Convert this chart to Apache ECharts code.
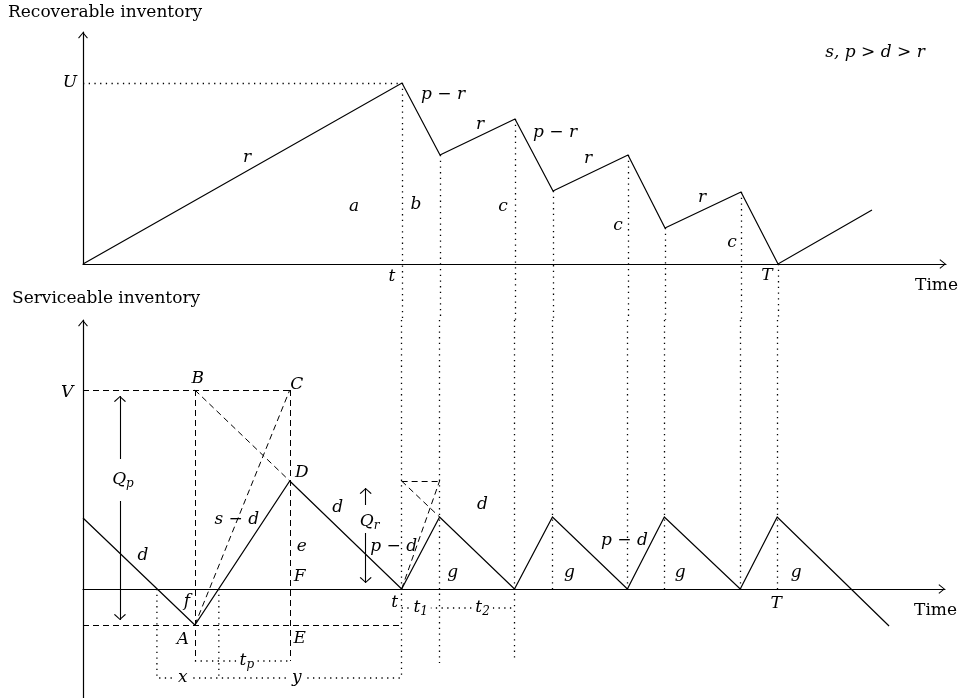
<!DOCTYPE html>
<html>
<head>
<meta charset="utf-8">
<script src="https://cdn.jsdelivr.net/npm/echarts@6/dist/echarts.min.js"></script>
<style>
  html, body { margin: 0; padding: 0; background: #fff; }
  #main { width: 960px; height: 698px; }
</style>
</head>
<body>
<div id="main"></div>
<script>
// units: time on x, inventory on y (schematic)

// recoverable inventory (top panel)
const recoverable = [[0, 0], [31.9, 18.1], [35.7, 10.9], [43.2, 14.5], [47.0, 7.3], [54.5, 10.9], [58.2, 3.6], [65.8, 7.2], [69.5, 0], [78.9, 5.4]];
const uLevel = 18.1;

// serviceable inventory (bottom panel)
const serviceable = [[0, 7.1], [11.2, -3.6], [20.7, 10.8], [31.9, 0], [35.7, 7.2], [43.2, 0], [47.0, 7.2], [54.5, 0], [58.2, 7.2], [65.8, 0], [69.5, 7.2], [80.7, -3.7]];
const vLevel = 19.9;
const aLevel = -3.6;
const dLevel = 10.8;
const bracketTp = -7.2;
const bracketXY = -8.9;
const bracketT12 = -1.9;

// vertical time markers: [time, top panel start, bottom panel end]
const markers = [[31.9, 18.1, -8.9], [35.7, 10.9, -7.4], [43.2, 14.5, -7.1], [47.0, 7.3, 0], [54.5, 10.9, 0], [58.2, 3.6, 0], [65.8, 7.2, 0], [69.5, 0, 0]];

// construction lines in the bottom panel
const dashedBottom = [
  [[0, vLevel], [20.7, vLevel]],
  [[11.2, vLevel], [11.2, bracketTp]],
  [[20.7, vLevel], [20.7, bracketTp]],
  [[11.2, vLevel], [20.7, dLevel]],
  [[11.2, aLevel], [20.7, vLevel]],
  [[0, aLevel], [31.7, aLevel]],
  [[31.9, 0], [35.7, dLevel]],
  [[31.9, dLevel], [35.7, dLevel]],
  [[31.9, dLevel], [35.7, 7.2]],
];
const dottedBottom = [
  [[7.4, 0], [7.4, bracketXY], [31.9, bracketXY]],
  [[13.6, 0], [13.6, bracketXY]],
  [[11.2, bracketTp], [20.7, bracketTp]],
  [[31.9, bracketT12], [43.2, bracketT12]],
];
const arrowsBottom = [
  [[3.7, 13.0], [3.7, 19.3]],
  [[3.7, 8.8], [3.7, -3.1]],
  [[28.3, 8.4], [28.3, 10.1]],
  [[28.3, 5.6], [28.3, 0.6]],
];

const topLabels = [
  [-1.3, 18.1, "U"],
  [16.4, 10.6, "r"],
  [27.1, 5.7, "a"],
  [33.3, 5.9, "b"],
  [36.0, 16.9, "p − r"],
  [39.7, 13.9, "r"],
  [47.2, 13.1, "p − r"],
  [50.5, 10.5, "r"],
  [42.0, 5.7, "c"],
  [53.5, 3.8, "c"],
  [61.9, 6.6, "r"],
  [64.9, 2.1, "c"],
  [30.9, -1.3, "t"],
  [68.4, -1.2, "T"],
  [79.2, 21.1, "s, p > d > r"],
];
// 4th field: cut a gap in the line underneath
const bottomLabels = [
  [-1.6, 19.6, "V"],
  [11.5, 21.0, "B"],
  [21.4, 20.4, "C"],
  [21.9, 11.6, "D"],
  [4.0, 10.9, "Q_p"],
  [6.0, 3.3, "d"],
  [15.4, 6.9, "s − d"],
  [21.9, 4.2, "e"],
  [21.7, 1.2, "F"],
  [10.4, -1.3, "f"],
  [10.0, -5.1, "A"],
  [21.7, -5.0, "E"],
  [16.4, -7.2, "t_p", true],
  [10.0, -8.9, "x", true],
  [21.4, -8.9, "y", true],
  [25.5, 8.1, "d"],
  [28.7, 6.7, "Q_r"],
  [31.1, 4.2, "p − d"],
  [37.0, 1.6, "g"],
  [31.2, -1.4, "t"],
  [33.8, -1.9, "t_1", true],
  [40.0, -1.9, "t_2", true],
  [40.0, 8.4, "d"],
  [48.7, 1.6, "g"],
  [54.2, 4.8, "p − d"],
  [59.8, 1.6, "g"],
  [71.4, 1.6, "g"],
  [69.4, -1.5, "T"],
];

const FONT = "DejaVu Serif";
// open arrow head, tip at the centre of its box
const arrowHead = "path://M5,0L10,6L9.2,6.7L5,1.5L0.8,6.7L0,6ZM5,-6.7L5.02,-6.7L5.02,-6.68Z";

const solid = { color: "#000", width: 1.2, type: "solid", opacity: 1 };
const dashed = { color: "#000", width: 1, type: [6, 4], opacity: 1 };
const dotted = { color: "#000", width: 1.3, type: [1.3, 4.4], opacity: 1 };

function linesSeries(grid, segments, style, symbol) {
  return {
    type: "lines",
    coordinateSystem: "cartesian2d",
    xAxisIndex: grid,
    yAxisIndex: grid,
    polyline: segments.some((c) => c.length > 2),
    clip: false,
    silent: true,
    symbol: symbol || ["none", "none"],
    symbolSize: [9, 12],
    lineStyle: style,
    data: segments.map((c) => ({ coords: c })),
  };
}

function labelSeries(grid, items) {
  return {
    type: "scatter",
    xAxisIndex: grid,
    yAxisIndex: grid,
    symbolSize: 0,
    clip: false,
    silent: true,
    z: 5,
    itemStyle: { opacity: 1 },
    data: items.map((d) => ({
      value: [d[0], d[1]],
      name: d[2],
      label: d[3] ? { backgroundColor: "#fff", padding: [0, 3] } : {},
    })),
    label: {
      show: true,
      position: "inside",
      color: "#000",
      opacity: 1,
      fontFamily: FONT,
      fontStyle: "italic",
      fontSize: 17,
      lineHeight: 20,
      formatter: (p) => p.name.replace(/_(\w+)/, "{s|$1}"),
      rich: {
        s: {
          fontFamily: FONT,
          fontStyle: "italic",
          fontSize: 12,
          lineHeight: 10,
          verticalAlign: "bottom",
          color: "#000",
        },
      },
    },
  };
}

function xAxisOf(grid) {
  return {
    gridIndex: grid,
    type: "value",
    min: 0,
    max: 86.3,
    name: "Time",
    nameLocation: "end",
    nameGap: 12,
    nameTextStyle: {
      color: "#000",
      fontFamily: FONT,
      fontSize: 17,
      align: "right",
      verticalAlign: "top",
      padding: [13, 0, 0, 0],
    },
    axisLine: {
      lineStyle: { color: "#000", width: 1.2 },
      symbol: ["none", arrowHead],
      symbolSize: [10, 13],
    },
    axisTick: { show: false },
    axisLabel: { show: false },
    splitLine: { show: false },
  };
}

function yAxisOf(grid, min, max) {
  return {
    gridIndex: grid,
    type: "value",
    min: min,
    max: max,
    axisLine: {
      lineStyle: { color: "#000", width: 1.2 },
      symbol: ["none", arrowHead],
      symbolSize: [10, 13],
    },
    axisTick: { show: false },
    axisLabel: { show: false },
    splitLine: { show: false },
  };
}

const chart = echarts.init(document.getElementById("main"));
const gapTop = -5.6; // where the top panel ends below its time axis
const gapBottom = 26.9; // top of the bottom panel

chart.setOption({
  animation: false,
  backgroundColor: "#fff",
  title: [
    {
      text: "Recoverable inventory",
      left: 8,
      top: 4,
      padding: 0,
      textStyle: { fontFamily: FONT, fontSize: 17, fontWeight: "normal", color: "#000" },
    },
    {
      text: "Serviceable inventory",
      left: 12,
      top: 290,
      padding: 0,
      textStyle: { fontFamily: FONT, fontSize: 17, fontWeight: "normal", color: "#000" },
    },
  ],
  grid: [
    { left: 83, right: 14, top: 32, height: 232 },
    { left: 83, right: 14, top: 320, height: 378 },
  ],
  xAxis: [xAxisOf(0), xAxisOf(1)],
  yAxis: [yAxisOf(0, 0, 23.2), yAxisOf(1, -10.9, 26.9)],
  series: [
    // top panel
    linesSeries(0, [recoverable], solid),
    linesSeries(0, [[[0, uLevel], [31.9, uLevel]]], dotted),
    linesSeries(0, markers.map((m) => [[m[0], m[1]], [m[0], gapTop]]), dotted),
    labelSeries(0, topLabels),
    // bottom panel
    linesSeries(1, [serviceable], solid),
    linesSeries(1, markers.map((m) => [[m[0], gapBottom], [m[0], m[2]]]), dotted),
    linesSeries(1, dashedBottom, dashed),
    linesSeries(1, dottedBottom, dotted),
    linesSeries(1, arrowsBottom, { color: "#000", width: 1.1, opacity: 1 }, ["none", arrowHead]),
    labelSeries(1, bottomLabels),
  ],
});
</script>
</body>
</html>
